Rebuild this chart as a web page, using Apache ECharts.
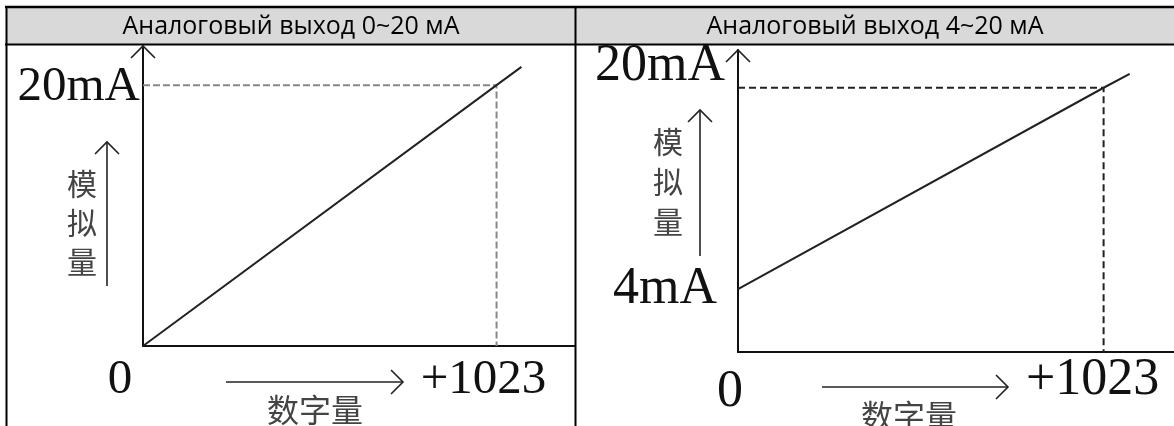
<!DOCTYPE html>
<html>
<head>
<meta charset="utf-8">
<script src="https://cdn.jsdelivr.net/npm/echarts@6/dist/echarts.min.js"></script>
<style>
  html, body { margin: 0; padding: 0; background: #fff; }
  #main { width: 1174px; height: 426px; }
</style>
</head>
<body>
<div id="main"></div>
<script>
// values
const headers = ["Аналоговый выход 0~20 мА", "Аналоговый выход 4~20 мА"];
const digitalFull = 1023;
const leftYRange = [0, 23];
const rightYRange = [-1, 23];
const leftXMax = 1250;
const rightXMax = 1220;
// output line (runs a little past full scale)
const leftLine = [[0, 0], [1023, 20], [1095, 21.4]];
const rightLine = [[0, 4], [1023, 20], [1096, 21.1]];
// dashed guides to the full-scale point
const leftGuide = [[0, 20], [1023, 20], [1023, 0]];
const rightGuide = [[0, 20], [1023, 20], [1023, -1]];
// tick labels
const leftYTicks = [[20, "20mA"]];
const rightYTicks = [[20, "20mA"], [4, "4mA"]];
const xTickLabels = ["0", "+1023"];
const yName = "模\n拟\n量";
const xName = "数字量";

const serif = "'Liberation Serif', 'DejaVu Serif', serif";
const cjk = "'Noto Sans CJK SC', sans-serif";

function vHead(x, y, dir) {
  const s = 12;
  const pts = dir === "up"
    ? [[x - s, y + s], [x, y], [x + s, y + s]]
    : [[x - s, y - s], [x, y], [x - s, y + s]];
  return { type: "polyline", shape: { points: pts }, style: { stroke: "#222", lineWidth: 1.6, fill: null } };
}

function segment(x1, y1, x2, y2) {
  return { type: "line", shape: { x1, y1, x2, y2 }, style: { stroke: "#222", lineWidth: 1.6 } };
}

function label(text, x, y, size, align, family, color) {
  return {
    type: "text", x, y,
    style: { text, fontSize: size, fontFamily: family, fill: color || "#111", align: align, verticalAlign: "middle", lineHeight: size * 1.3 }
  };
}

// arrows and texts around one panel, placed from its axes
function panelMarks(idx, yMin, yMax, yTicks, lay) {
  return {
    type: "custom",
    xAxisIndex: idx,
    yAxisIndex: idx,
    clip: false,
    silent: true,
    data: [[0, yMin]],
    renderItem: function (params, api) {
      const o = api.coord([0, yMin]);
      const top = api.coord([0, yMax]);
      const fx = api.coord([digitalFull, yMin])[0];
      const kids = [vHead(top[0], top[1], "up")];
      yTicks.forEach(function (t, i) {
        const p = api.coord([0, t[0]]);
        kids.push(label(t[1], o[0] - lay.yLab[i][0], p[1] + lay.yLab[i][1], lay.big, "right", serif));
      });
      kids.push(label(xTickLabels[0], o[0] + lay.zero[0], o[1] + lay.zero[1], lay.big, "center", serif));
      kids.push(label(xTickLabels[1], fx + lay.full[0], o[1] + lay.full[1], lay.big, "center", serif));
      // digital arrow + name
      const ay = o[1] + lay.xArrow[2];
      kids.push(segment(o[0] + lay.xArrow[0], ay, o[0] + lay.xArrow[1], ay));
      kids.push(vHead(o[0] + lay.xArrow[1], ay, "right"));
      kids.push(label(xName, o[0] + lay.xName[0], o[1] + lay.xName[1], 32, "center", cjk, "#444"));
      // analog arrow + name
      const ax = o[0] - lay.yArrow[0];
      kids.push(segment(ax, o[1] - lay.yArrow[1], ax, o[1] - lay.yArrow[2]));
      kids.push(vHead(ax, o[1] - lay.yArrow[1], "up"));
      kids.push({
        type: "text", x: o[0] - lay.yName[0], y: o[1] - lay.yName[1],
        style: { text: yName, fontSize: 30, fontFamily: cjk, fill: "#444", align: "center", verticalAlign: "middle", lineHeight: lay.yName[2] }
      });
      return { type: "group", children: kids };
    }
  };
}

function axisPair(idx, xMax, yRange) {
  return {
    x: {
      type: "value", gridIndex: idx, min: 0, max: xMax,
      axisLine: { onZero: false, lineStyle: { color: "#111", width: 2 } },
      axisTick: { show: false }, axisLabel: { show: false }, splitLine: { show: false }
    },
    y: {
      type: "value", gridIndex: idx, min: yRange[0], max: yRange[1],
      axisLine: { show: true, onZero: false, lineStyle: { color: "#111", width: 2 } },
      axisTick: { show: false }, axisLabel: { show: false }, splitLine: { show: false }
    }
  };
}

const a0 = axisPair(0, leftXMax, leftYRange);
const a1 = axisPair(1, rightXMax, rightYRange);

const chart = echarts.init(document.getElementById("main"), null, { renderer: "canvas" });
chart.setOption({
  animation: false,
  backgroundColor: "#fff",
  grid: [
    { left: 143, top: 46, width: 432, height: 300 },
    { left: 738, top: 50, width: 436, height: 302 }
  ],
  xAxis: [a0.x, a1.x],
  yAxis: [a0.y, a1.y],
  graphic: [
    { type: "rect", shape: { x: 6, y: 7, width: 1168, height: 37 }, style: { fill: "#d9d9d9" } },
    { type: "line", shape: { x1: 5, y1: 7, x2: 1174, y2: 7 }, style: { stroke: "#000", lineWidth: 2.5 } },
    { type: "line", shape: { x1: 5, y1: 44.5, x2: 1174, y2: 44.5 }, style: { stroke: "#000", lineWidth: 2 } },
    { type: "line", shape: { x1: 6.5, y1: 6, x2: 6.5, y2: 426 }, style: { stroke: "#000", lineWidth: 2 } },
    { type: "line", shape: { x1: 575.5, y1: 6, x2: 575.5, y2: 426 }, style: { stroke: "#000", lineWidth: 2 } },
    { type: "text", x: 291, y: 27, style: { text: headers[0], fontSize: 25, fontFamily: "'Open Sans', sans-serif", fill: "#000", align: "center", verticalAlign: "middle" } },
    { type: "text", x: 875, y: 27, style: { text: headers[1], fontSize: 25, fontFamily: "'Open Sans', sans-serif", fill: "#000", align: "center", verticalAlign: "middle" } }
  ],
  series: [
    {
      type: "line", xAxisIndex: 0, yAxisIndex: 0, data: leftGuide, symbol: "none",
      lineStyle: { color: "#888", width: 2, type: [7, 3] }
    },
    {
      type: "line", xAxisIndex: 0, yAxisIndex: 0, data: leftLine, symbol: "none",
      lineStyle: { color: "#222", width: 2 }
    },
    {
      type: "line", xAxisIndex: 1, yAxisIndex: 1, data: rightGuide, symbol: "none",
      lineStyle: { color: "#222", width: 2, type: [7, 4] }
    },
    {
      type: "line", xAxisIndex: 1, yAxisIndex: 1, data: rightLine, symbol: "none",
      lineStyle: { color: "#222", width: 2 }
    },
    panelMarks(0, leftYRange[0], leftYRange[1], leftYTicks, {
      big: 49,
      yLab: [[3, 2]],
      zero: [-23, 34],
      full: [-13, 34],
      xArrow: [83, 260, 36],
      xName: [172, 64],
      yArrow: [36, 204, 60],
      yName: [61, 123, 39]
    }),
    panelMarks(1, rightYRange[0], rightYRange[1], rightYTicks, {
      big: 52,
      yLab: [[13, -21], [21, 0]],
      zero: [-8, 40],
      full: [-11, 28],
      xArrow: [84, 270, 35],
      xName: [171, 64],
      yArrow: [38, 242, 96],
      yName: [70, 170, 40]
    })
  ]
});
</script>
</body>
</html>
